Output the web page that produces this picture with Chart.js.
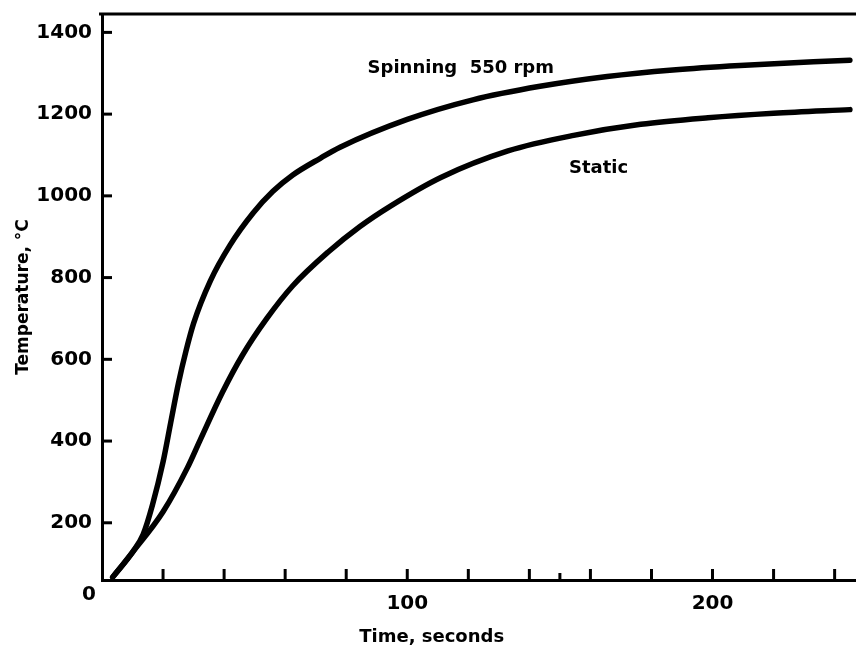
<!DOCTYPE html>
<html>
<head>
<meta charset="utf-8">
<script src="https://cdn.jsdelivr.net/npm/chart.js@4.4.0/dist/chart.umd.min.js"></script>
<style>
  html, body { margin: 0; padding: 0; background: #fff; }
</style>
</head>
<body>
<canvas id="chart" width="856" height="661"></canvas>
<script>
// heating curves, temperature (°C) against time (s)
const spinTime = [3.5, 10, 13.5, 16.5, 20, 22.5, 25, 27.5, 30, 35.5, 42, 49.5, 56, 62.5, 71.5, 78, 100, 121.5, 143.5, 165.5, 187, 209, 245];
const spinTemp = [67, 128, 172, 243, 349, 445, 540, 620, 688, 792, 880, 958, 1011, 1051, 1092, 1119, 1187, 1235, 1268, 1292, 1308, 1319, 1332];

const staticTime = [3.5, 10, 20, 28, 32, 39.5, 46, 54, 62.5, 74, 84.5, 94.5, 111, 133, 154.5, 176.5, 198.5, 220, 245];
const staticTemp = [67, 128, 227, 335, 400, 520, 610, 700, 780, 862, 925, 975, 1045, 1110, 1148, 1175, 1191, 1202, 1211];

const timeTicks = [0, 20, 40, 60, 80, 100, 120, 140, 160, 180, 200, 220, 240];
const timeMinorTicks = [150];
const timeLabels = [100, 200];
const tempTicks = [200, 400, 600, 800, 1000, 1200, 1400];

const FONT = '"DejaVu Sans", sans-serif';
const INK = '#000';

function points(xs, ys) {
  return xs.map((x, i) => ({ x: x, y: ys[i] }));
}

// ticks point inward, frame line on top, shared origin zero and curve captions
const axisDecor = {
  id: 'axisDecor',
  afterDraw(chart) {
    const { ctx, chartArea, scales } = chart;
    const x = scales.x, y = scales.y;
    ctx.save();
    ctx.strokeStyle = INK;
    ctx.lineWidth = 3;
    ctx.lineCap = 'butt';

    ctx.beginPath();
    ctx.moveTo(chartArea.left - 3, chartArea.top);
    ctx.lineTo(chartArea.right, chartArea.top);
    ctx.stroke();

    timeTicks.slice(1).forEach(t => {
      const px = x.getPixelForValue(t);
      ctx.beginPath();
      ctx.moveTo(px, chartArea.bottom);
      ctx.lineTo(px, chartArea.bottom - 11);
      ctx.stroke();
    });
    timeMinorTicks.forEach(t => {
      const px = x.getPixelForValue(t);
      ctx.beginPath();
      ctx.moveTo(px, chartArea.bottom);
      ctx.lineTo(px, chartArea.bottom - 7);
      ctx.stroke();
    });
    tempTicks.forEach(v => {
      const py = y.getPixelForValue(v);
      ctx.beginPath();
      ctx.moveTo(chartArea.left, py);
      ctx.lineTo(chartArea.left + 10, py);
      ctx.stroke();
    });

    ctx.fillStyle = INK;
    ctx.font = 'bold 20px ' + FONT;
    ctx.textAlign = 'center';
    ctx.textBaseline = 'middle';
    ctx.fillText('0', chartArea.left - 13, chartArea.bottom + 15);

    ctx.font = 'bold 18px ' + FONT;
    ctx.textAlign = 'left';
    ctx.textBaseline = 'alphabetic';
    ctx.fillText('Spinning  550 rpm', x.getPixelForValue(87), y.getPixelForValue(1300));
    ctx.fillText('Static', x.getPixelForValue(153), y.getPixelForValue(1055));

    ctx.textAlign = 'center';
    ctx.fillText('Time, seconds', x.getPixelForValue(108), chartArea.bottom + 62);
    ctx.restore();
  }
};

new Chart(document.getElementById('chart'), {
  type: 'line',
  data: {
    datasets: [
      {
        label: 'Spinning 550 rpm',
        data: points(spinTime, spinTemp),
        borderColor: INK,
        borderWidth: 5.5,
        borderCapStyle: 'round',
        borderJoinStyle: 'round',
        pointRadius: 0,
        fill: false,
        cubicInterpolationMode: 'monotone'
      },
      {
        label: 'Static',
        data: points(staticTime, staticTemp),
        borderColor: INK,
        borderWidth: 5.5,
        borderCapStyle: 'round',
        borderJoinStyle: 'round',
        pointRadius: 0,
        fill: false,
        cubicInterpolationMode: 'monotone'
      }
    ]
  },
  options: {
    responsive: false,
    animation: false,
    devicePixelRatio: 1,
    layout: { padding: { top: 14, left: 0, right: 0, bottom: 0 } },
    plugins: {
      legend: { display: false },
      tooltip: { enabled: false }
    },
    scales: {
      x: {
        type: 'linear',
        min: 0,
        max: 247,
        afterBuildTicks: scale => { scale.ticks = timeTicks.map(v => ({ value: v })); },
        afterFit: scale => {
          scale.height = 81;
          scale.paddingLeft = 0;
          scale.paddingRight = 0;
        },
        grid: { display: false, drawTicks: false },
        border: { display: true, color: INK, width: 3 },
        ticks: {
          autoSkip: false,
          maxRotation: 0,
          padding: 12,
          color: INK,
          font: { family: FONT, size: 20, weight: 'bold' },
          callback: v => timeLabels.includes(v) ? String(v) : ''
        }
      },
      y: {
        type: 'linear',
        min: 60,
        max: 1445,
        afterBuildTicks: scale => { scale.ticks = tempTicks.map(v => ({ value: v })); },
        afterFit: scale => {
          scale.width = 102;
          scale.paddingTop = 0;
          scale.paddingBottom = 0;
        },
        grid: { display: false, drawTicks: false },
        border: { display: true, color: INK, width: 3 },
        ticks: {
          padding: 10,
          color: INK,
          font: { family: FONT, size: 20, weight: 'bold' },
          callback: v => String(v)
        },
        title: {
          display: true,
          text: 'Temperature, °C',
          color: INK,
          padding: { top: 13, bottom: 0 },
          font: { family: FONT, size: 17, weight: 'bold' }
        }
      }
    }
  },
  plugins: [axisDecor]
});
</script>
</body>
</html>
